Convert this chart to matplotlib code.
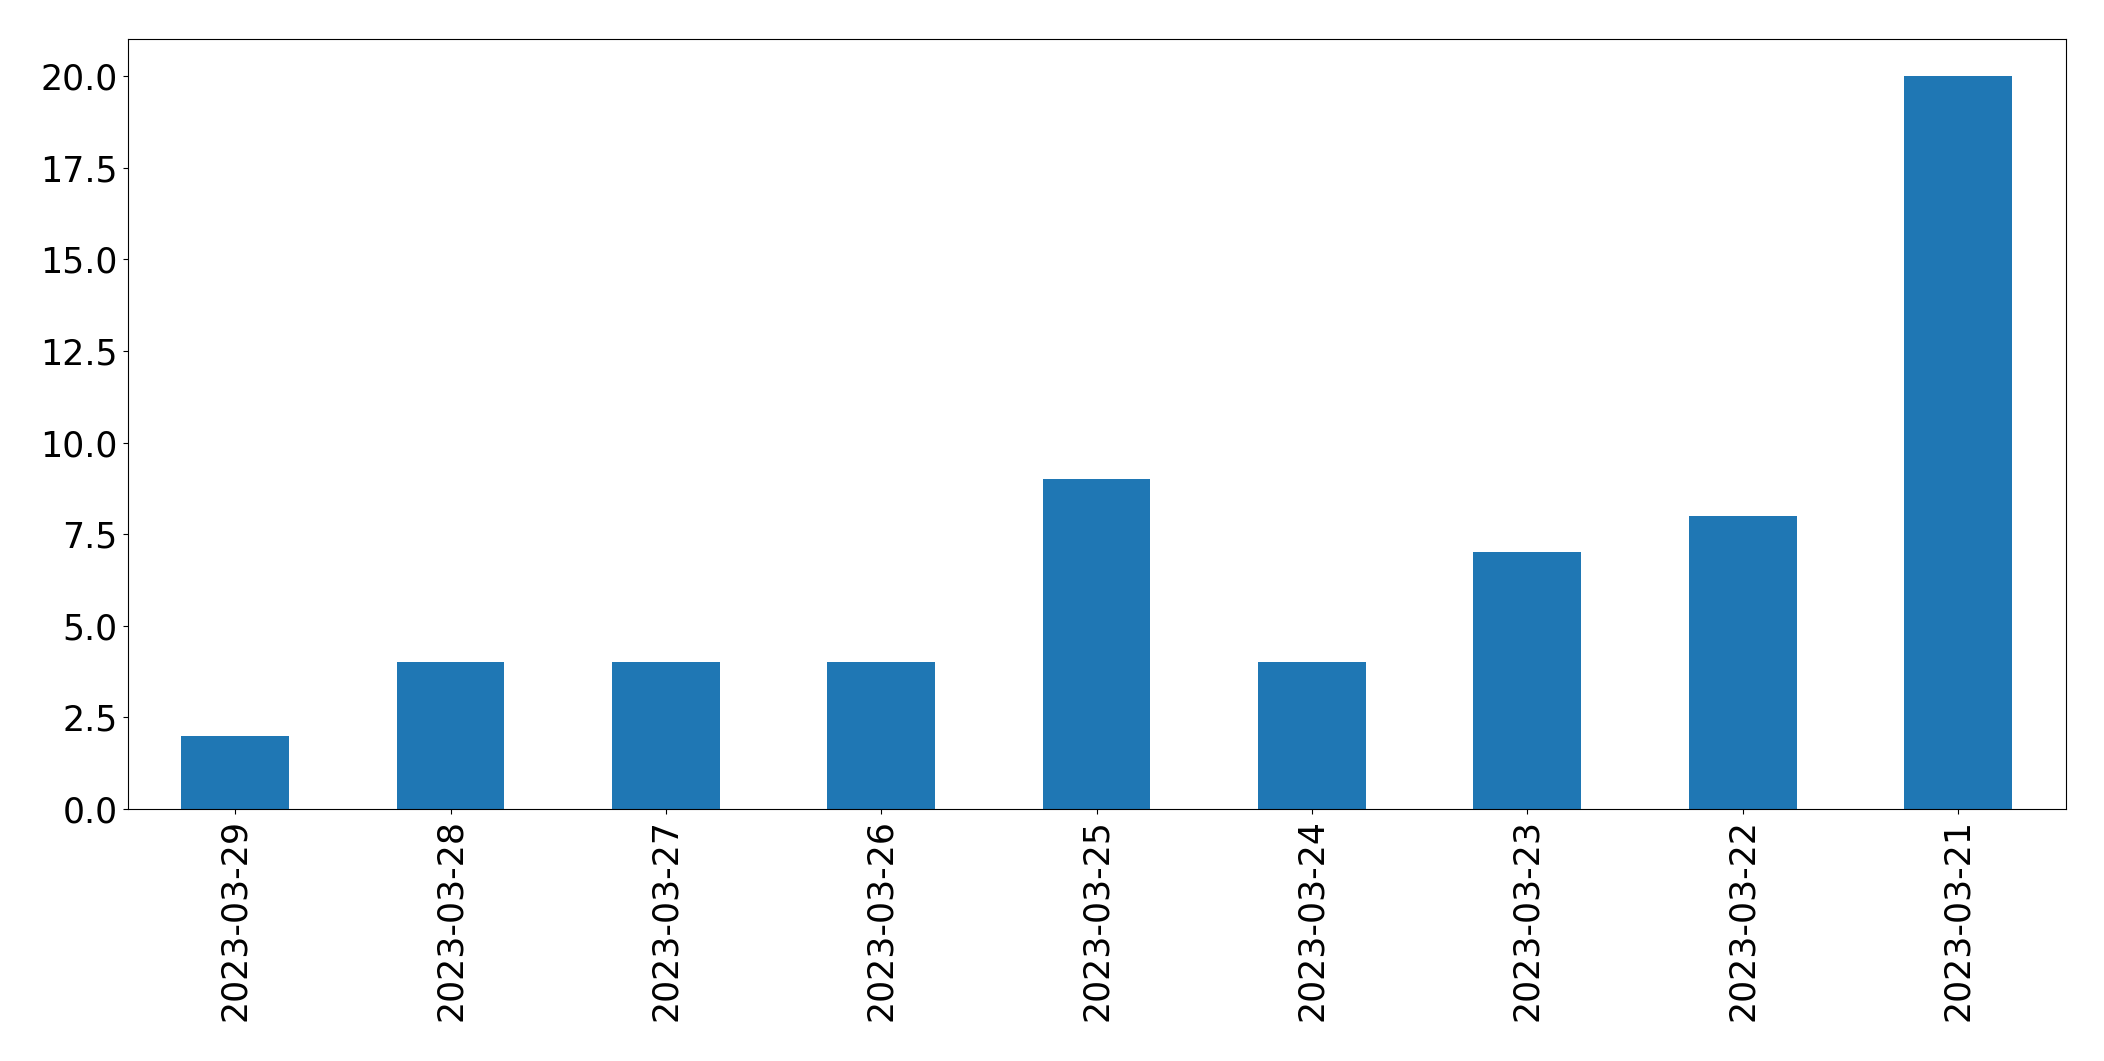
import matplotlib
matplotlib.use("Agg")
import matplotlib.pyplot as plt

dates = ["2023-03-29", "2023-03-28", "2023-03-27", "2023-03-26", "2023-03-25",
         "2023-03-24", "2023-03-23", "2023-03-22", "2023-03-21"]
counts = [2, 4, 4, 4, 9, 4, 7, 8, 20]

fig = plt.figure(figsize=(21.04, 10.61), dpi=100)
ax = fig.add_axes([0.0606, 0.2375, 0.9818 - 0.0606, 0.9628 - 0.2375])
x = list(range(len(dates)))
ax.bar(x, counts, width=0.5, color="#1f77b4")
ax.set_xlim(-0.5, len(dates) - 0.5)
ax.set_ylim(0, 21)
ax.set_xticks(x)
ax.set_xticklabels(dates, rotation=90)
ax.set_yticks([0, 2.5, 5, 7.5, 10, 12.5, 15, 17.5, 20])
ax.set_yticklabels([f"{v:.1f}" for v in [0, 2.5, 5, 7.5, 10, 12.5, 15, 17.5, 20]])
ax.tick_params(labelsize=25)
fig.savefig("out.png", dpi=100)
